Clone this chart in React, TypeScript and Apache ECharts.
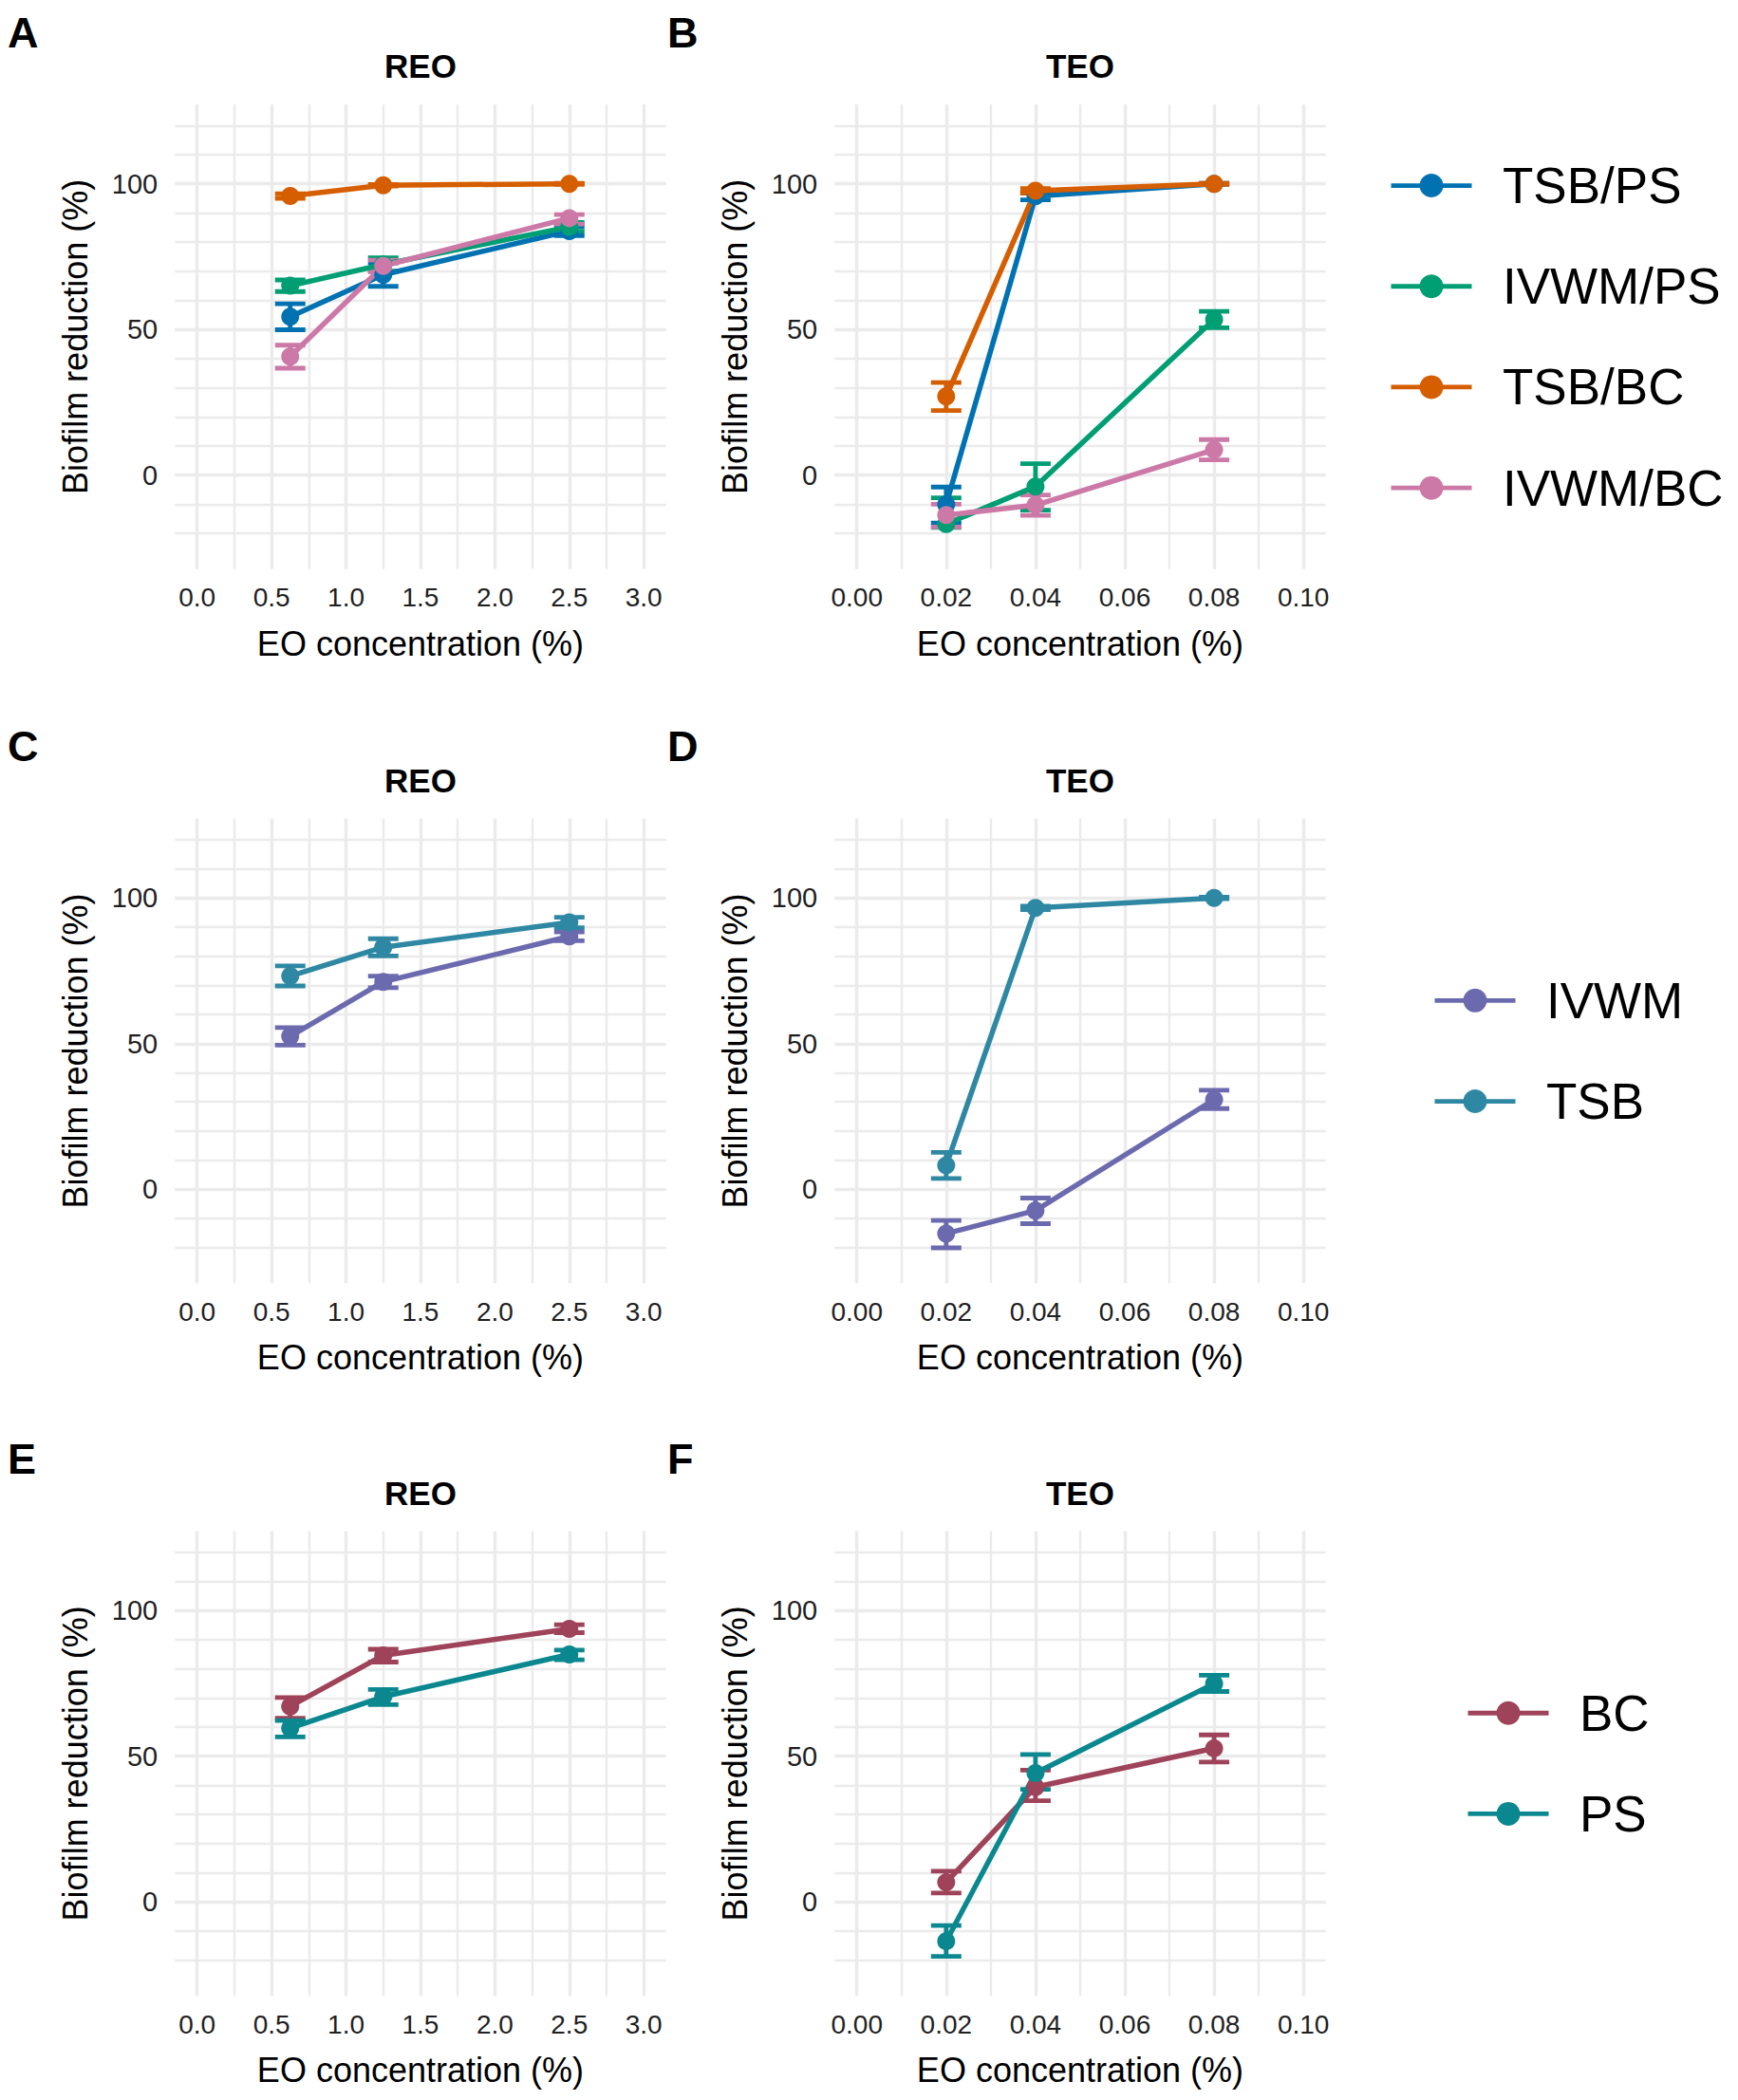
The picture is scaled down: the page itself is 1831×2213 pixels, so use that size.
import React, { useEffect, useRef } from "react";
import * as echarts from "echarts";

// ---------------- data ----------------
const X_REO = [0.625, 1.25, 2.5];
const X_TEO = [0.02, 0.04, 0.08];

const REO_X_TICKS = [0, 0.5, 1, 1.5, 2, 2.5, 3];
const TEO_X_TICKS = [0, 0.02, 0.04, 0.06, 0.08, 0.1];
const Y_TICKS = [0, 50, 100];
const REO_X_GRID = [0, 0.25, 0.5, 0.75, 1, 1.25, 1.5, 1.75, 2, 2.25, 2.5, 2.75, 3];
const TEO_X_GRID = [0, 0.01, 0.02, 0.03, 0.04, 0.05, 0.06, 0.07, 0.08, 0.09, 0.1];
const Y_GRID = [-20, -10, 0, 10, 20, 30, 40, 50, 60, 70, 80, 90, 100, 110, 120];

const REO_X_RANGE = [-0.15, 3.15];
const TEO_X_RANGE = [-0.005, 0.105];
const Y_RANGE = [-32.25, 127.25];

const ROW1_NAMES = ["TSB/PS", "IVWM/PS", "TSB/BC", "IVWM/BC"];
const ROW1_COLORS = ["#0072B2", "#009E73", "#D55E00", "#CC79A7"];
const ROW2_NAMES = ["IVWM", "TSB"];
const ROW2_COLORS = ["#6C6AAE", "#2F88A3"];
const ROW3_NAMES = ["BC", "PS"];
const ROW3_COLORS = ["#9E4359", "#0B888F"];

// Panel A (REO)
const A_TSBPS_MEAN = [54.4, 68.8, 83.8];
const A_TSBPS_BAR = [[49.9, 58.8], [64.8, 72.8], [82.2, 85.4]];
const A_IVWMPS_MEAN = [65.0, 72.3, 85.2];
const A_IVWMPS_BAR = [[63.0, 67.0], [70.0, 74.6], [83.7, 86.7]];
const A_TSBBC_MEAN = [95.8, 99.5, 100.0];
const A_TSBBC_BAR = [[95.0, 96.6], [99.2, 99.8], [99.8, 100.2]];
const A_IVWMBC_MEAN = [40.7, 71.8, 88.2];
const A_IVWMBC_BAR = [[36.7, 44.6], [69.8, 73.8], [86.2, 89.4]];

// Panel B (TEO)
const B_TSBPS_MEAN = [-10.0, 95.7, 100.0];
const B_TSBPS_BAR = [[-16.4, -4.1], [94.5, 97.0], [99.8, 100.2]];
const B_IVWMPS_MEAN = [-16.8, -3.9, 53.4];
const B_IVWMPS_BAR = [[-18.0, -7.8], [-12.0, 3.9], [50.6, 56.2]];
const B_TSBBC_MEAN = [27.0, 97.6, 100.0];
const B_TSBBC_BAR = [[22.2, 31.8], [96.8, 98.4], [99.8, 100.2]];
const B_IVWMBC_MEAN = [-13.7, -10.3, 8.7];
const B_IVWMBC_BAR = [[-17.8, -10.0], [-13.8, -6.8], [5.2, 12.2]];

// Panel C (REO)
const C_IVWM_MEAN = [52.5, 71.2, 86.8];
const C_IVWM_BAR = [[49.5, 55.5], [69.2, 73.2], [85.3, 88.3]];
const C_TSB_MEAN = [73.2, 83.1, 91.6];
const C_TSB_BAR = [[69.8, 76.7], [80.1, 86.0], [89.8, 93.4]];

// Panel D (TEO)
const D_IVWM_MEAN = [-15.2, -7.3, 30.8];
const D_IVWM_BAR = [[-20.1, -10.7], [-11.8, -3.0], [27.7, 34.0]];
const D_TSB_MEAN = [8.2, 96.6, 100.0];
const D_TSB_BAR = [[3.7, 12.7], [96.0, 97.2], [99.7, 100.3]];

// Panel E (REO)
const E_BC_MEAN = [67.1, 84.6, 93.7];
const E_BC_BAR = [[63.0, 70.1], [82.3, 86.7], [92.4, 95.1]];
const E_PS_MEAN = [59.6, 70.4, 84.9];
const E_PS_BAR = [[56.6, 62.2], [67.7, 72.9], [83.1, 86.4]];

// Panel F (TEO)
const F_BC_MEAN = [6.7, 39.4, 52.7];
const F_BC_BAR = [[3.0, 10.5], [34.7, 45.2], [48.0, 57.3]];
const F_PS_MEAN = [-13.5, 44.2, 74.9];
const F_PS_BAR = [[-18.7, -8.1], [38.6, 50.6], [72.2, 77.8]];

// ---------------- layout ----------------
const W = 1831;
const H = 2213;
const COL_LEFT = [184.2, 879.2];
const PANEL_W = 517.5;
const ROW_TOP = [110, 862.6, 1613.5];
const PANEL_H = 489.7;
const LEGEND_CX = [1508, 1554, 1589];
const FONT = "'Liberation Sans', Arial, Helvetica, sans-serif";

type Panel = {
  letter: string;
  title: string;
  row: number;
  col: number;
  x: number[];
  xRange: number[];
  xGrid: number[];
  xTicks: number[];
  dec: number;
  names: string[];
  colors: string[];
  means: number[][];
  bars: number[][][];
};

const PANELS: Panel[] = [
  {
    letter: "A", title: "REO", row: 0, col: 0, x: X_REO, xRange: REO_X_RANGE, xGrid: REO_X_GRID, xTicks: REO_X_TICKS, dec: 1,
    names: ROW1_NAMES, colors: ROW1_COLORS,
    means: [A_TSBPS_MEAN, A_IVWMPS_MEAN, A_TSBBC_MEAN, A_IVWMBC_MEAN],
    bars: [A_TSBPS_BAR, A_IVWMPS_BAR, A_TSBBC_BAR, A_IVWMBC_BAR],
  },
  {
    letter: "B", title: "TEO", row: 0, col: 1, x: X_TEO, xRange: TEO_X_RANGE, xGrid: TEO_X_GRID, xTicks: TEO_X_TICKS, dec: 2,
    names: ROW1_NAMES, colors: ROW1_COLORS,
    means: [B_TSBPS_MEAN, B_IVWMPS_MEAN, B_TSBBC_MEAN, B_IVWMBC_MEAN],
    bars: [B_TSBPS_BAR, B_IVWMPS_BAR, B_TSBBC_BAR, B_IVWMBC_BAR],
  },
  {
    letter: "C", title: "REO", row: 1, col: 0, x: X_REO, xRange: REO_X_RANGE, xGrid: REO_X_GRID, xTicks: REO_X_TICKS, dec: 1,
    names: ROW2_NAMES, colors: ROW2_COLORS,
    means: [C_IVWM_MEAN, C_TSB_MEAN],
    bars: [C_IVWM_BAR, C_TSB_BAR],
  },
  {
    letter: "D", title: "TEO", row: 1, col: 1, x: X_TEO, xRange: TEO_X_RANGE, xGrid: TEO_X_GRID, xTicks: TEO_X_TICKS, dec: 2,
    names: ROW2_NAMES, colors: ROW2_COLORS,
    means: [D_IVWM_MEAN, D_TSB_MEAN],
    bars: [D_IVWM_BAR, D_TSB_BAR],
  },
  {
    letter: "E", title: "REO", row: 2, col: 0, x: X_REO, xRange: REO_X_RANGE, xGrid: REO_X_GRID, xTicks: REO_X_TICKS, dec: 1,
    names: ROW3_NAMES, colors: ROW3_COLORS,
    means: [E_BC_MEAN, E_PS_MEAN],
    bars: [E_BC_BAR, E_PS_BAR],
  },
  {
    letter: "F", title: "TEO", row: 2, col: 1, x: X_TEO, xRange: TEO_X_RANGE, xGrid: TEO_X_GRID, xTicks: TEO_X_TICKS, dec: 2,
    names: ROW3_NAMES, colors: ROW3_COLORS,
    means: [F_BC_MEAN, F_PS_MEAN],
    bars: [F_BC_BAR, F_PS_BAR],
  },
];

const LEGENDS = [
  { names: ROW1_NAMES, colors: ROW1_COLORS },
  { names: ROW2_NAMES, colors: ROW2_COLORS },
  { names: ROW3_NAMES, colors: ROW3_COLORS },
];

function buildOption() {
  const grid: any[] = [];
  const xAxis: any[] = [];
  const yAxis: any[] = [];
  const series: any[] = [];
  const graphic: any[] = [];

  PANELS.forEach((p, i) => {
    const left = COL_LEFT[p.col];
    const top = ROW_TOP[p.row];
    grid.push({ left, top, width: PANEL_W, height: PANEL_H, containLabel: false, outerBoundsMode: "none" });
    xAxis.push({
      type: "value",
      gridIndex: i,
      min: p.xRange[0],
      max: p.xRange[1],
      axisLine: { show: false },
      axisTick: { show: false },
      splitLine: { show: false },
      axisLabel: {
        customValues: p.xTicks,
        formatter: (v: number) => v.toFixed(p.dec),
        fontSize: 28,
        fontFamily: FONT,
        color: "#1f1f1f",
        margin: 16,
      },
    });
    yAxis.push({
      type: "value",
      gridIndex: i,
      min: Y_RANGE[0],
      max: Y_RANGE[1],
      axisLine: { show: false },
      axisTick: { show: false },
      splitLine: { show: false },
      axisLabel: {
        customValues: Y_TICKS,
        formatter: (v: number) => String(Math.round(v)),
        fontSize: 29,
        fontFamily: FONT,
        color: "#1f1f1f",
        margin: 18,
      },
    });

    // grid lines
    const mlData: any[] = [];
    p.xGrid.forEach((v) => {
      const major = p.xTicks.some((t) => Math.abs(t - v) < 1e-9);
      mlData.push({ xAxis: v, lineStyle: { color: "#EBEBEB", width: major ? 3.4 : 2.4, type: "solid" } });
    });
    Y_GRID.forEach((v) => {
      const major = Y_TICKS.includes(v);
      mlData.push({ yAxis: v, lineStyle: { color: "#EBEBEB", width: major ? 3.4 : 2.4, type: "solid" } });
    });
    series.push({
      type: "line",
      xAxisIndex: i,
      yAxisIndex: i,
      data: [],
      silent: true,
      z: 1,
      markLine: {
        z: 1,
        silent: true,
        symbol: ["none", "none"],
        label: { show: false },
        emphasis: { disabled: true },
        animation: false,
        data: mlData,
      },
    });

    // error bars
    p.names.forEach((name, g) => {
      const color = p.colors[g];
      series.push({
        type: "custom",
        name,
        xAxisIndex: i,
        yAxisIndex: i,
        z: 2,
        silent: true,
        encode: { x: 0, y: [1, 2] },
        data: p.x.map((xv, k) => [xv, p.bars[g][k][0], p.bars[g][k][1]]),
        renderItem: (params: any, api: any) => {
          const xv = api.value(0);
          const a = api.coord([xv, api.value(2)]);
          const b = api.coord([xv, api.value(1)]);
          const hw = 16;
          const style = { stroke: color, lineWidth: 4.8, fill: "none" };
          return {
            type: "group",
            children: [
              { type: "line", shape: { x1: a[0], y1: a[1], x2: b[0], y2: b[1] }, style },
              { type: "line", shape: { x1: a[0] - hw, y1: a[1], x2: a[0] + hw, y2: a[1] }, style },
              { type: "line", shape: { x1: b[0] - hw, y1: b[1], x2: b[0] + hw, y2: b[1] }, style },
            ],
          };
        },
      });
    });
    // lines
    p.names.forEach((name, g) => {
      series.push({
        type: "line",
        name,
        xAxisIndex: i,
        yAxisIndex: i,
        z: 3,
        silent: true,
        showSymbol: false,
        lineStyle: { color: p.colors[g], width: 5.5 },
        itemStyle: { color: p.colors[g] },
        data: p.x.map((xv, k) => [xv, p.means[g][k]]),
      });
    });
    // points
    p.names.forEach((name, g) => {
      series.push({
        type: "scatter",
        name,
        xAxisIndex: i,
        yAxisIndex: i,
        z: 4,
        silent: true,
        symbol: "circle",
        symbolSize: 19,
        itemStyle: { color: p.colors[g], opacity: 1 },
        data: p.x.map((xv, k) => [xv, p.means[g][k]]),
      });
    });

    // texts
    const off = top - ROW_TOP[0];
    graphic.push({
      type: "text",
      x: p.col === 0 ? 8 : 703,
      y: 34 + off,
      style: { text: p.letter, fontSize: 45, fontWeight: "bold", fontFamily: FONT, fill: "#000", align: "left", verticalAlign: "middle" },
    });
    graphic.push({
      type: "text",
      x: left + PANEL_W / 2,
      y: 69.5 + off,
      style: { text: p.title, fontSize: 35, fontWeight: "bold", fontFamily: FONT, fill: "#000", align: "center", verticalAlign: "middle" },
    });
    graphic.push({
      type: "text",
      x: left + PANEL_W / 2,
      y: 678 + off,
      style: { text: "EO concentration (%)", fontSize: 36, fontFamily: FONT, fill: "#000", align: "center", verticalAlign: "middle" },
    });
    graphic.push({
      type: "text",
      x: left - 105,
      y: top + PANEL_H / 2,
      rotation: Math.PI / 2,
      style: { text: "Biofilm reduction (%)", fontSize: 36, fontFamily: FONT, fill: "#000", align: "center", verticalAlign: "middle" },
    });
  });

  // legends
  LEGENDS.forEach((lg, r) => {
    const cy0 = ROW_TOP[r] + PANEL_H / 2;
    const n = lg.names.length;
    const cx = LEGEND_CX[r];
    lg.names.forEach((name, k) => {
      const cy = cy0 + (k - (n - 1) / 2) * 106.2;
      const color = lg.colors[k];
      graphic.push({
        type: "line",
        shape: { x1: cx - 42.5, y1: cy, x2: cx + 42.5, y2: cy },
        style: { stroke: color, lineWidth: 4.8 },
      });
      graphic.push({ type: "circle", shape: { cx, cy, r: 12.5 }, style: { fill: color } });
      graphic.push({
        type: "text",
        x: cx + 75,
        y: cy,
        style: { text: name, fontSize: 53, fontFamily: FONT, fill: "#000", align: "left", verticalAlign: "middle" },
      });
    });
  });

  return {
    animation: false,
    backgroundColor: "#FFFFFF",
    grid,
    xAxis,
    yAxis,
    series,
    graphic: { elements: graphic },
  };
}

export default function App() {
  const ref = useRef<HTMLDivElement>(null);
  useEffect(() => {
    document.body.style.margin = "0";
    if (!ref.current) return;
    const chart = echarts.init(ref.current, undefined, { renderer: "svg", width: W, height: H });
    chart.setOption(buildOption() as any);
    return () => {
      chart.dispose();
    };
  }, []);
  return <div ref={ref} style={{ width: W, height: H, background: "#fff" }} />;
}
